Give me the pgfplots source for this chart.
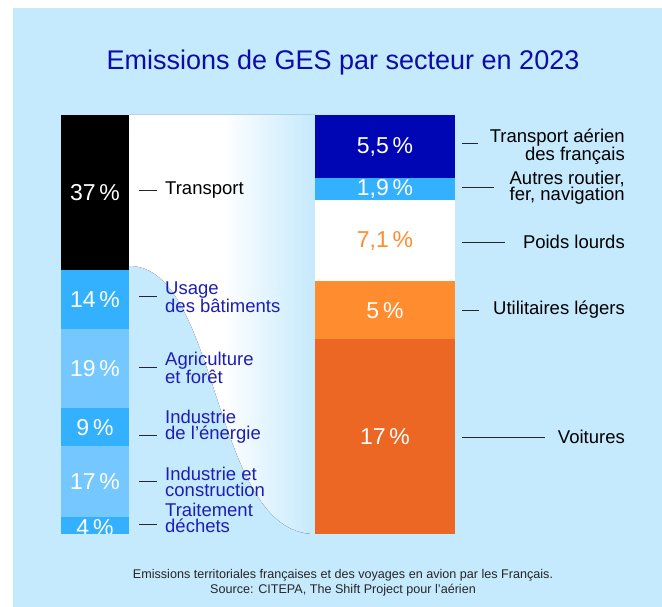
\documentclass[border=0pt]{standalone}
\usepackage{fontspec}
\setmainfont{Liberation Sans}
\usepackage{pgfplots}
\pgfplotsset{compat=1.18}

\definecolor{bgblue}{RGB}{197,233,253}
\definecolor{titleblue}{RGB}{12,12,170}
\definecolor{lblblue}{RGB}{30,30,180}
\definecolor{cbright}{RGB}{51,177,255}
\definecolor{clight}{RGB}{117,199,255}
\definecolor{cnavy}{RGB}{0,6,180}
\definecolor{corange}{RGB}{255,140,46}
\definecolor{cdorange}{RGB}{235,103,35}

\pgfdeclarehorizontalshading{funnel}{100bp}{color(0bp)=(white); color(25bp)=(white); color(50bp)=(white); color(75bp)=(bgblue); color(100bp)=(bgblue)}

\tikzset{pct/.style={text=white, font=\fontsize{23bp}{26bp}\selectfont}}
\pgfplotsset{frame/.style={
  at={(61bp,73bp)}, anchor=south west,
  scale only axis, width=394bp, height=419bp,
  xmin=0, xmax=394, ymin=0, hide axis, clip=false}}

\begin{document}
\begin{tikzpicture}
\fill[white] (0,0) rectangle (662bp,607bp);
\fill[bgblue] (13bp,0) rectangle (662bp,599bp);

\node[anchor=base, text=titleblue, font=\fontsize{27bp}{30bp}\selectfont] at (343bp,537bp) {Emissions de GES par secteur en 2023};

% barre de gauche : total des emissions (100 %)
\begin{axis}[frame, ymax=100, ybar stacked, bar width=68]
\fill[shading=funnel] (axis cs:68,100) -- (axis cs:254,100) -- (axis cs:254,0)
  .. controls (axis cs:150,0) and (axis cs:160,64) .. (axis cs:68,64) -- cycle;
\addplot[fill=cbright, draw=none] coordinates {(34,4)};   % dechets
\addplot[fill=clight, draw=none] coordinates {(34,17)};   % industrie
\addplot[fill=cbright, draw=none] coordinates {(34,9)};   % energie
\addplot[fill=clight, draw=none] coordinates {(34,19)};   % agriculture
\addplot[fill=cbright, draw=none] coordinates {(34,14)};  % batiments
\addplot[fill=black, draw=none] coordinates {(34,37)};    % transport
\end{axis}

% barre de droite : detail du transport (36,5 %)
\begin{axis}[frame, ymax=36.5, ybar stacked, bar width=140]
\addplot[fill=cdorange, draw=none] coordinates {(324,17)};  % voitures
\addplot[fill=corange, draw=none] coordinates {(324,5)};    % utilitaires
\addplot[fill=white, draw=none] coordinates {(324,7.1)};    % poids lourds
\addplot[fill=cbright, draw=none] coordinates {(324,1.9)};  % autres
\addplot[fill=cnavy, draw=none] coordinates {(324,5.5)};    % aerien
\end{axis}

% valeurs dans les barres (axes superposes, dessines apres les barres)
\begin{axis}[frame, ymax=100]
\begin{scope}
\clip (axis cs:0,0) rectangle (axis cs:394,100);
\node[pct] at (axis cs:34,81.5) {37\,\%};
\node[pct] at (axis cs:34,56) {14\,\%};
\node[pct] at (axis cs:34,39.5) {19\,\%};
\node[pct] at (axis cs:34,25.5) {9\,\%};
\node[pct] at (axis cs:34,12.5) {17\,\%};
\node[pct] at (axis cs:34,1.6) {4\,\%};
\end{scope}
\end{axis}
\begin{axis}[frame, ymax=36.5]
\node[pct] at (axis cs:324,8.5) {17\,\%};
\node[pct] at (axis cs:324,19.5) {5\,\%};
\node[pct, text=corange] at (axis cs:324,25.55) {7,1\,\%};
\node[pct] at (axis cs:324,30.05) {1,9\,\%};
\node[pct] at (axis cs:324,33.75) {5,5\,\%};
\end{axis}

% libelles a gauche
\begin{scope}[every node/.style={anchor=west, align=left, inner sep=0pt,
    text=lblblue, font=\fontsize{18.5bp}{16bp}\selectfont}]
\draw[black!85, line width=0.9bp] (139bp,417bp) -- (157bp,417bp);
\draw[black!85, line width=0.9bp] (139bp,311bp) -- (157bp,311bp);
\draw[black!85, line width=0.9bp] (139bp,240bp) -- (157bp,240bp);
\draw[black!85, line width=0.9bp] (139bp,172bp) -- (157bp,172bp);
\draw[black!85, line width=0.9bp] (139bp,126bp) -- (157bp,126bp);
\draw[black!85, line width=0.9bp] (139bp,83bp) -- (157bp,83bp);
\node[text=black] at (165bp,417bp) {Transport};
\node at (165bp,310bp) {Usage\\des bâtiments};
\node at (165bp,239bp) {Agriculture\\et forêt};
\node at (165bp,180bp) {Industrie\\de l'énergie};
\node at (165bp,125bp) {Industrie et\\construction};
\node at (165bp,89bp) {Traitement\\déchets};
\end{scope}

% libelles a droite
\begin{scope}[every node/.style={anchor=east, align=right, inner sep=0pt,
    text=black, font=\fontsize{18.5bp}{16bp}\selectfont}]
\draw[black!85, line width=0.9bp] (462bp,464bp) -- (478bp,464bp);
\draw[black!85, line width=0.9bp] (462bp,420bp) -- (494bp,420bp);
\draw[black!85, line width=0.9bp] (462bp,365bp) -- (505bp,365bp);
\draw[black!85, line width=0.9bp] (462bp,297bp) -- (479bp,297bp);
\draw[black!85, line width=0.9bp] (462bp,170bp) -- (545bp,170bp);
\node at (625bp,460bp) {Transport aérien\\des français};
\node at (625bp,419bp) {Autres routier,\\fer, navigation};
\node at (625bp,365bp) {Poids lourds};
\node at (625bp,297bp) {Utilitaires légers};
\node at (625bp,170bp) {Voitures};
\end{scope}

\begin{scope}[every node/.style={anchor=base, text=black!85, font=\fontsize{12.6bp}{15bp}\selectfont}]
\node at (343bp,29bp) {Emissions territoriales françaises et des voyages en avion par les Français.};
\node at (343bp,14bp) {Source: CITEPA, The Shift Project pour l'aérien};
\end{scope}
\end{tikzpicture}
\end{document}
